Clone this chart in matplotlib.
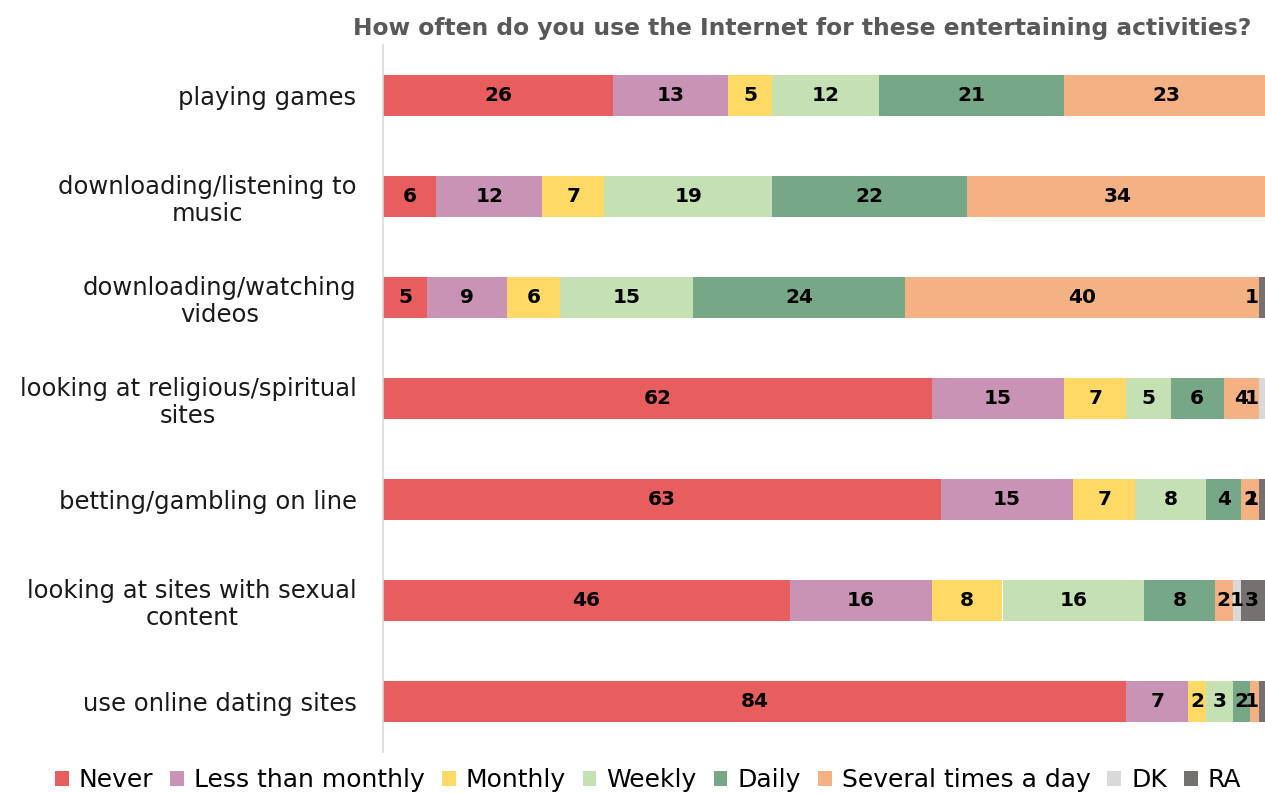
import matplotlib
matplotlib.use("Agg")
import matplotlib.pyplot as plt
from matplotlib.patches import Patch
import numpy as np

categories = [
    "playing games",
    "downloading/listening to\nmusic",
    "downloading/watching\nvideos",
    "looking at religious/spiritual\nsites",
    "betting/gambling on line",
    "looking at sites with sexual\ncontent",
    "use online dating sites",
]

series_names = ["Never", "Less than monthly", "Monthly", "Weekly", "Daily",
                "Several times a day", "DK", "RA"]

never = [26, 6, 5, 62, 63, 46, 84]
less_than_monthly = [13, 12, 9, 15, 15, 16, 7]
monthly = [5, 7, 6, 7, 7, 8, 2]
weekly = [12, 19, 15, 5, 8, 16, 3]
daily = [21, 22, 24, 6, 4, 8, 2]
several_times_a_day = [23, 34, 40, 4, 2, 2, 1]
dk = [0, 0, 0, 1, 0, 1, 0]
ra = [0, 0, 1, 0, 1, 3, 0.8]

colors = ["#E85D5E", "#C993B5", "#FED966", "#C5E0B3", "#76A787",
          "#F4B183", "#D9D9D9", "#767171"]

title = "How often do you use the Internet for these entertaining activities?"

series = [never, less_than_monthly, monthly, weekly, daily,
          several_times_a_day, dk, ra]

W, H = 1265, 793
fig = plt.figure(figsize=(W / 100, H / 100), dpi=100)
plt.rcParams["font.family"] = "DejaVu Sans"

ax = fig.add_axes([383 / W, 41 / H, 885 / W, 707 / H])
ax.set_xlim(0, 100)
ax.set_ylim(len(categories) - 0.5, -0.5)

# labels near the right edge are kept inside the plot area
label_x_max = 98.2

y = np.arange(len(categories))
left = np.zeros(len(categories))
for name, vals, col in zip(series_names, series, colors):
    vals = np.array(vals, dtype=float)
    ax.barh(y, vals, left=left, height=0.41, color=col, edgecolor="none",
            label=name)
    for yi, (l, v) in enumerate(zip(left, vals)):
        if v >= 1:
            ax.text(min(l + v / 2, label_x_max), yi, f"{v:g}", ha="center",
                    va="center", fontsize=14.5, fontweight="bold",
                    color="black")
    left += vals

for s in ["top", "right", "bottom"]:
    ax.spines[s].set_visible(False)
ax.spines["left"].set_color("#D9D9D9")
ax.spines["left"].set_linewidth(1.2)
ax.set_xticks([])
ax.set_yticks(y)
ax.set_yticklabels(categories, fontsize=17.5, color="#1a1a1a",
                   multialignment="center", linespacing=1.15)
ax.tick_params(axis="y", length=0, pad=19)

fig.text(802 / W, 1 - 28 / H, title, ha="center", va="center",
         fontsize=16.8, fontweight="bold", color="#595959")

handles = [Patch(facecolor=c, edgecolor="none", label=n)
           for n, c in zip(series_names, colors)]
fig.legend(handles=handles, loc="center", bbox_to_anchor=(648 / W, 1 - 780 / H),
           ncol=8, frameon=False, fontsize=18, handlelength=0.55,
           handleheight=0.55, handletextpad=0.4, columnspacing=0.68,
           borderaxespad=0, borderpad=0)

fig.savefig("out.png", dpi=100)
